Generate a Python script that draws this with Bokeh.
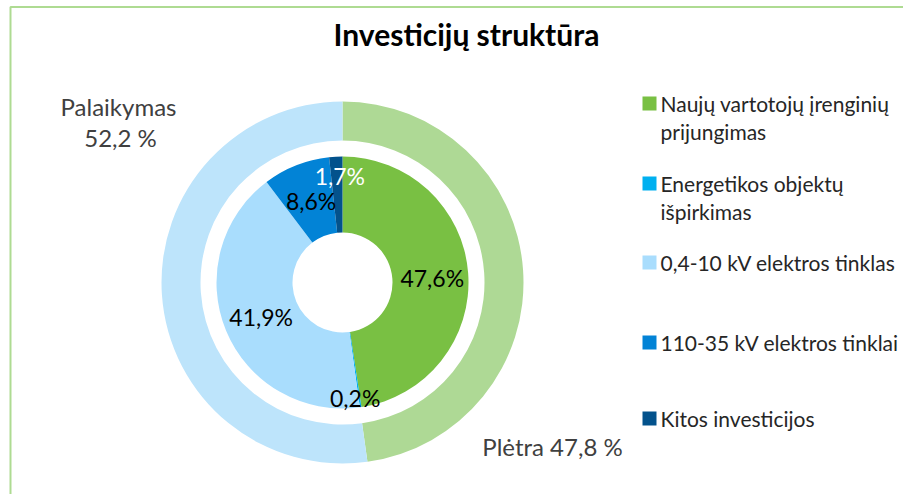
import numpy as np
from bokeh.plotting import figure
from bokeh.models import Range1d
from bokeh.core.properties import value
from bokeh.embed import file_html
from bokeh.resources import INLINE

# ---- data ----
title = "Investicijų struktūra"
outer_names = ["Plėtra", "Palaikymas"]
outer_values = [47.8, 52.2]
outer_colors = ["#AED995", "#BDE4FB"]

inner_names = ["Naujų vartotojų įrenginių prijungimas", "Energetikos objektų išpirkimas",
               "0,4-10 kV elektros tinklas", "110-35 kV elektros tinklai", "Kitos investicijos"]
inner_values = [47.6, 0.2, 41.9, 8.6, 1.7]
inner_colors = ["#79C043", "#00B0F0", "#A9DDFD", "#0283D6", "#03528C"]
legend_lines = [["Naujų vartotojų įrenginių", "prijungimas"], ["Energetikos objektų", "išpirkimas"],
                ["0,4-10 kV elektros tinklas"], ["110-35 kV elektros tinklai"], ["Kitos investicijos"]]

FONT = "Lato"
W, H = 903, 494


def sx(X):
    return X


def sy(Y):
    return H - Y


cx, cy = sx(342), sy(282)

p = figure(width=W, height=H, output_backend="svg", toolbar_location=None,
           x_range=Range1d(0, W), y_range=Range1d(0, H),
           x_axis_location=None, y_axis_location=None, min_border=0)
p.grid.visible = False
p.outline_line_color = None
p.background_fill_color = "white"
p.border_fill_color = "white"


def angles(vals):
    v = np.array(vals, dtype=float)
    frac = v / v.sum()
    cum = np.concatenate([[0], np.cumsum(frac)])
    start = np.pi / 2 - cum[:-1] * 2 * np.pi
    end = np.pi / 2 - cum[1:] * 2 * np.pi
    mid = np.pi / 2 - (cum[:-1] + cum[1:]) / 2 * 2 * np.pi
    return start, end, mid


# outer ring
os_, oe_, om_ = angles(outer_values)
p.annular_wedge(x=cx, y=cy, inner_radius=142, outer_radius=181,
                start_angle=os_, end_angle=oe_, direction="clock",
                fill_color=outer_colors, line_color=None)

# inner ring
is_, ie_, im_ = angles(inner_values)
p.annular_wedge(x=cx, y=cy, inner_radius=50, outer_radius=126,
                start_angle=is_, end_angle=ie_, direction="clock",
                fill_color=inner_colors, line_color=None)

# inner labels at mid radius, with nudges for crowded slices
r_mid = 88
lx = cx + r_mid * np.cos(im_)
ly = cy + r_mid * np.sin(im_)
nudge_y = np.array([-2, -28, -1, 0, 19])
nudge_x = np.array([2, 0, 0, 1, 2])
lab_txt = [f"{v:.1f}%".replace(".", ",") for v in inner_values]
lab_col = ["black", "black", "black", "black", "white"]
p.text(x=lx + nudge_x, y=ly + nudge_y, text=lab_txt, text_color=lab_col,
       text_align="center", text_baseline="middle",
       text_font=value(FONT), text_font_size="23px")

# outer labels
p.text(x=[sx(118), sx(120)], y=[sy(106), sy(137)],
       text=[outer_names[1], f"{outer_values[1]:.1f} %".replace(".", ",")],
       text_color="#404040", text_align="center", text_baseline="middle",
       text_font=value(FONT), text_font_size="24px")
p.text(x=[sx(552)], y=[sy(446)],
       text=[f"{outer_names[0]} {outer_values[0]:.1f} %".replace(".", ",")],
       text_color="#404040", text_align="center", text_baseline="middle",
       text_font=value(FONT), text_font_size="24px")

# title
p.text(x=[sx(466)], y=[sy(33)], text=[title], text_color="black",
       text_align="center", text_baseline="middle",
       text_font=value(FONT), text_font_style="bold", text_font_size="30px")

# legend
leg_y = [103, 183, 262, 342, 418]
p.scatter(x=[sx(649)] * 5, y=[sy(v) for v in leg_y], marker="square", size=14,
          fill_color=inner_colors, line_color=None)
tx, ty = [], []
for yy, lines in zip(leg_y, legend_lines):
    for k, ln in enumerate(lines):
        tx.append(sx(660))
        ty.append(sy(yy + 28 * k))
texts = [ln for lines in legend_lines for ln in lines]
p.text(x=tx, y=ty, text=texts, text_color="#262626", text_align="left",
       text_baseline="middle", text_font=value(FONT), text_font_size="21px")

# chart-area border (top and left visible)
p.line(x=[10, 10, W], y=[0, sy(6.5), sy(6.5)], line_color="#AEDB92", line_width=2)

open("out.html", "w").write(file_html(p, INLINE))
